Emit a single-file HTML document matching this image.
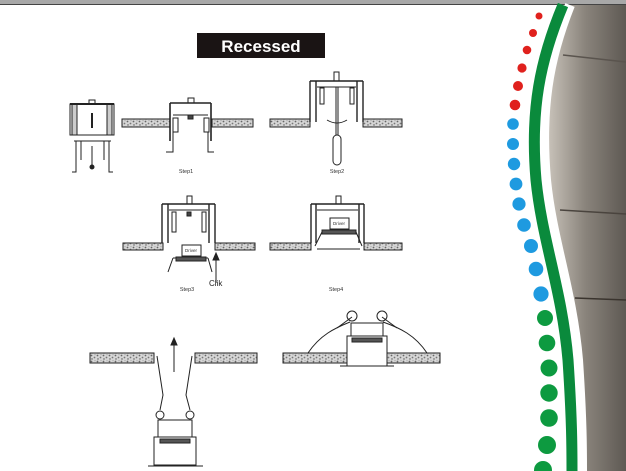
<!DOCTYPE html>
<html><head><meta charset="utf-8"><style>
html,body{margin:0;padding:0;background:#fff;}
svg{display:block;}
text{font-family:"Liberation Sans",sans-serif;}
</style></head><body>
<svg width="626" height="471" viewBox="0 0 626 471" xmlns="http://www.w3.org/2000/svg">
<defs>
<pattern id="conc" width="6" height="6" patternUnits="userSpaceOnUse">
<rect width="6" height="6" fill="#d6d6d6"/>
<circle cx="1.5" cy="1.5" r="0.9" fill="#666"/><circle cx="4.5" cy="3.5" r="0.9" fill="#777"/><circle cx="2" cy="5" r="0.7" fill="#555"/><circle cx="5" cy="0.8" r="0.5" fill="#888"/>
</pattern>
<linearGradient id="ph" x1="0" y1="0" x2="1" y2="0">
<stop offset="0" stop-color="#cfc9c0"/><stop offset="0.5" stop-color="#8a847c"/><stop offset="1" stop-color="#5e5953"/>
</linearGradient>
</defs>
<rect x="0" y="0" width="626" height="4" fill="#a8a8a8"/>
<rect x="0" y="4" width="626" height="1" fill="#444"/>

<path d="M570,5 C548,60 540,110 546,180 C552,240 572,290 578,360 C582,420 582,450 582,471 L626,471 L626,5 Z" fill="url(#ph)"/>
<path d="M570,5 C548,60 540,110 546,180 C552,240 572,290 578,360 C582,420 582,450 582,471" fill="none" stroke="#fff" stroke-width="10"/>
<path d="M563,5 C540,60 530,110 536,180 C542,240 562,290 568,360 C572,420 572,450 572,471" fill="none" stroke="#0a8a3c" stroke-width="11"/>
<line x1="560" y1="210" x2="626" y2="214" stroke="#4a443e" stroke-width="1.5"/>
<line x1="575" y1="298" x2="626" y2="300" stroke="#3a342e" stroke-width="1.5"/>
<line x1="563" y1="55" x2="626" y2="62" stroke="#5a544e" stroke-width="1.5"/>
<g fill="#e0211d">
<circle cx="539" cy="16" r="3.5"/><circle cx="533" cy="33" r="4"/><circle cx="527" cy="50" r="4.3"/><circle cx="522" cy="68" r="4.6"/><circle cx="518" cy="86" r="5"/><circle cx="515" cy="105" r="5.3"/>
</g>
<g fill="#1e9ae0">
<circle cx="513" cy="124" r="5.8"/><circle cx="513" cy="144" r="6"/><circle cx="514" cy="164" r="6.2"/><circle cx="516" cy="184" r="6.4"/><circle cx="519" cy="204" r="6.6"/><circle cx="524" cy="225" r="6.8"/><circle cx="531" cy="246" r="7"/><circle cx="536" cy="269" r="7.3"/><circle cx="541" cy="294" r="7.6"/>
</g>
<g fill="#0d9a40">
<circle cx="545" cy="318" r="8"/><circle cx="547" cy="343" r="8.3"/><circle cx="549" cy="368" r="8.5"/><circle cx="549" cy="393" r="8.7"/><circle cx="549" cy="418" r="8.8"/><circle cx="547" cy="445" r="9"/><circle cx="543" cy="470" r="9"/>
</g>

<rect x="197" y="33" width="128" height="25" fill="#1a1414"/>
<text x="261" y="52" font-size="17" font-weight="bold" fill="#fff" text-anchor="middle">Recessed</text>

<g fill="none" stroke="#222" stroke-width="1">
<rect x="70" y="104" width="44" height="31"/>
<rect x="72" y="104" width="5" height="31" fill="#ccc"/><rect x="107" y="104" width="5" height="31" fill="#ccc"/>
<line x1="70" y1="104" x2="114" y2="104" stroke-width="2"/>
<rect x="89" y="100" width="6" height="4"/>
<line x1="92" y1="113" x2="92" y2="128" stroke-width="2"/>
<path d="M74,141 H111 M76,141 V172 H72 M109,141 V172 H113 M81,141 V160 M104,141 V160"/>
<line x1="92" y1="146" x2="92" y2="167"/><circle cx="92" cy="167" r="2" fill="#222"/>

<rect x="122" y="119" width="48" height="8" fill="url(#conc)"/>
<rect x="212" y="119" width="41" height="8" fill="url(#conc)"/>
<path d="M170,103 H211 M170,103 V141 M211,103 V141" stroke-width="1.6"/>
<rect x="188" y="98" width="6" height="5"/>
<line x1="173" y1="115" x2="208" y2="115"/>
<rect x="188" y="115" width="5" height="4" fill="#444"/>
<rect x="173" y="118" width="5" height="14"/><rect x="204" y="118" width="5" height="14"/>
<path d="M173,132 V152 H166 M208,132 V152 H214"/>

<rect x="270" y="119" width="40" height="8" fill="url(#conc)"/>
<rect x="363" y="119" width="39" height="8" fill="url(#conc)"/>
<path d="M310,81 H363 M310,81 V122 M363,81 V122 M316,81 V122 M357,81 V122" stroke-width="1.4"/>
<rect x="334" y="72" width="5" height="9"/>
<line x1="317" y1="87" x2="356" y2="87"/>
<rect x="320" y="88" width="4" height="16"/><rect x="350" y="88" width="4" height="16"/>
<line x1="336" y1="87" x2="336" y2="135"/><line x1="338" y1="87" x2="338" y2="135"/>
<path d="M327,120 Q337,126 347,120"/>
<rect x="333" y="135" width="8" height="30" rx="4"/>

<rect x="123" y="243" width="40" height="7" fill="url(#conc)"/>
<rect x="215" y="243" width="40" height="7" fill="url(#conc)"/>
<path d="M162,204 H215 M162,204 V243 M215,204 V243 M168,204 V243 M209,204 V243" stroke-width="1.4"/>
<rect x="187" y="196" width="5" height="8"/>
<line x1="169" y1="210" x2="208" y2="210"/>
<rect x="187" y="212" width="4" height="4" fill="#444"/>
<rect x="172" y="212" width="4" height="20"/><rect x="202" y="212" width="4" height="20"/>
<rect x="182" y="245" width="19" height="11" fill="#fff"/>
<path d="M173,258 H208 M173,258 L168,272 M208,258 L212,272"/>
<rect x="176" y="257" width="30" height="4" fill="#555"/>
<line x1="216" y1="283" x2="216" y2="257"/>
<path d="M213,260 L216,253 L219,260 Z" fill="#222"/>

<rect x="270" y="243" width="41" height="7" fill="url(#conc)"/>
<rect x="364" y="243" width="38" height="7" fill="url(#conc)"/>
<path d="M311,204 H364 M311,204 V243 M364,204 V243 M316,204 V243 M359,204 V243" stroke-width="1.4"/>
<rect x="336" y="196" width="5" height="8"/>
<line x1="317" y1="210" x2="358" y2="210"/>
<rect x="330" y="218" width="19" height="11" fill="#fff"/>
<rect x="322" y="230" width="34" height="4" fill="#555"/>
<path d="M322,232 L315,246 M356,232 L362,246 M317,249 H360"/>

<rect x="90" y="353" width="64" height="10" fill="url(#conc)"/>
<rect x="195" y="353" width="62" height="10" fill="url(#conc)"/>
<path d="M157,356 L163,395 L160,410 M192,356 L186,395 L190,410"/>
<circle cx="160" cy="415" r="4"/><circle cx="190" cy="415" r="4"/>
<rect x="158" y="420" width="34" height="17"/>
<rect x="154" y="437" width="42" height="28"/>
<rect x="160" y="439" width="30" height="4" fill="#555"/>
<line x1="148" y1="466" x2="203" y2="466"/>
<line x1="174" y1="372" x2="174" y2="342"/>
<path d="M171,345 L174,338 L177,345 Z" fill="#222"/>

<rect x="283" y="353" width="157" height="10" fill="url(#conc)"/>
<path d="M308,353 C320,335 335,328 350,322 M427,353 C415,335 400,328 383,322"/>
<path d="M337,328 L352,317 M397,328 L382,317"/>
<circle cx="352" cy="316" r="5"/><circle cx="382" cy="316" r="5"/>
<rect x="351" y="323" width="32" height="13"/>
<rect x="347" y="336" width="40" height="30" fill="#fff"/>
<rect x="352" y="338" width="30" height="4" fill="#555"/>
<line x1="340" y1="366" x2="394" y2="366"/>
</g>

<g font-size="5.5" fill="#333">
<text x="186" y="173" text-anchor="middle">Step1</text>
<text x="337" y="173" text-anchor="middle">Step2</text>
<text x="187" y="291" text-anchor="middle">Step3</text>
<text x="336" y="291" text-anchor="middle">Step4</text>
<text x="191" y="252" text-anchor="middle" font-size="4.5">Driver</text>
<text x="339" y="225" text-anchor="middle" font-size="4.5">Driver</text>
</g>
<text x="209" y="286" font-size="8" fill="#222">Clik</text>
</svg>
</body></html>
